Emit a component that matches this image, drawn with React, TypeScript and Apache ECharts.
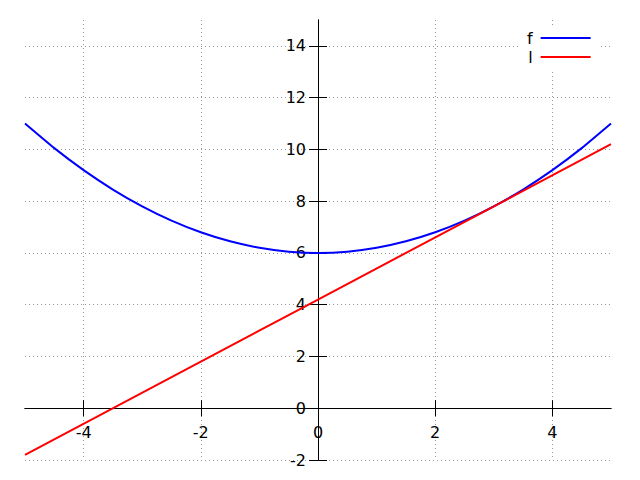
import React, { useEffect, useRef } from "react";
import * as echarts from "echarts";

const xValues = [-5, -4.5, -4, -3.5, -3, -2.5, -2, -1.5, -1, -0.5, 0, 0.5, 1, 1.5, 2, 2.5, 3, 3.5, 4, 4.5, 5];
const fValues = [11, 10.05, 9.2, 8.45, 7.8, 7.25, 6.8, 6.45, 6.2, 6.05, 6, 6.05, 6.2, 6.45, 6.8, 7.25, 7.8, 8.45, 9.2, 10.05, 11];
const lX = [-5, 0, 5];
const lValues = [-1.8, 4.2, 10.2];
const xTicks = [-4, -2, 0, 2, 4];
const yTicks = [-2, 0, 2, 4, 6, 8, 10, 12, 14];
const seriesNames = ["f", "l"];
const X_MIN = -5, X_MAX = 5, Y_MIN = -2, Y_MAX = 15;

const FONT = "DejaVu Sans";
const FS = 16;
const W = 640, H = 480;
const G = { left: 25, right: 29, top: 20, bottom: 20 };

export default function App() {
  const ref = useRef<HTMLDivElement>(null);
  useEffect(() => {
    if (!ref.current) return;
    const chart = echarts.init(ref.current, undefined, { renderer: "svg" });
    const gw = W - G.left - G.right;
    const gh = H - G.top - G.bottom;
    // move the axes onto the zero lines (layout offsets)
    const xOff = -((0 - Y_MIN) / (Y_MAX - Y_MIN)) * gh;
    const yOff = -((0 - X_MIN) / (X_MAX - X_MIN)) * gw;
    const axisLine = { show: true, onZero: false, lineStyle: { color: "#000", width: 1 } };
    const splitLine = { show: true, lineStyle: { color: "#999", type: [1, 3] as any, width: 1 } };
    chart.setOption({
      animation: false,
      backgroundColor: "#fff",
      textStyle: { fontFamily: FONT },
      grid: { ...G, containLabel: false, outerBoundsMode: "none" },
      legend: {
        data: seriesNames,
        orient: "vertical",
        align: "right",
        left: 518,
        top: 28,
        padding: [2, 9, 4, 9],
        itemGap: 3,
        itemWidth: 50,
        itemHeight: 16,
        backgroundColor: "#fff",
        itemStyle: { opacity: 0 },
        textStyle: { fontFamily: FONT, fontSize: FS, lineHeight: 16, color: "#000", padding: [0, 3, 0, 0] },
      },
      xAxis: [
        {
          type: "value",
          min: X_MIN,
          max: X_MAX,
          position: "bottom",
          offset: xOff,
          axisLine,
          axisTick: { show: true, length: 8, customValues: xTicks, lineStyle: { color: "#000" } },
          axisLabel: { show: true, customValues: xTicks, margin: 16, fontSize: FS, color: "#000", fontFamily: FONT },
          splitLine,
        },
        {
          type: "value",
          min: X_MIN,
          max: X_MAX,
          position: "bottom",
          offset: xOff,
          axisLine,
          axisTick: { show: true, inside: true, length: 8, customValues: xTicks, lineStyle: { color: "#000" } },
          axisLabel: { show: false },
          splitLine: { show: false },
        },
      ],
      yAxis: [
        {
          type: "value",
          min: Y_MIN,
          max: Y_MAX,
          position: "left",
          offset: yOff,
          axisLine,
          axisTick: { show: true, length: 9, customValues: yTicks, lineStyle: { color: "#000" } },
          axisLabel: { show: true, customValues: yTicks, margin: 12, fontSize: FS, color: "#000", fontFamily: FONT },
          splitLine,
        },
        {
          type: "value",
          min: Y_MIN,
          max: Y_MAX,
          position: "left",
          offset: yOff,
          axisLine,
          axisTick: { show: true, inside: true, length: 9, customValues: yTicks, lineStyle: { color: "#000" } },
          axisLabel: { show: false },
          splitLine: { show: false },
        },
      ],
      series: [
        {
          name: seriesNames[0],
          type: "line",
          data: xValues.map((x, i) => [x, fValues[i]]),
          showSymbol: false,
          symbol: "none",
          smooth: 0.2,
          lineStyle: { color: "#0000ff", width: 2 },
          itemStyle: { color: "#0000ff" },
        },
        {
          name: seriesNames[1],
          type: "line",
          data: lX.map((x, i) => [x, lValues[i]]),
          showSymbol: false,
          symbol: "none",
          lineStyle: { color: "#ff0000", width: 2 },
          itemStyle: { color: "#ff0000" },
        },
      ],
    });
    return () => chart.dispose();
  }, []);
  return <div ref={ref} style={{ width: W, height: H, position: "absolute", left: 0, top: 0 }} />;
}
